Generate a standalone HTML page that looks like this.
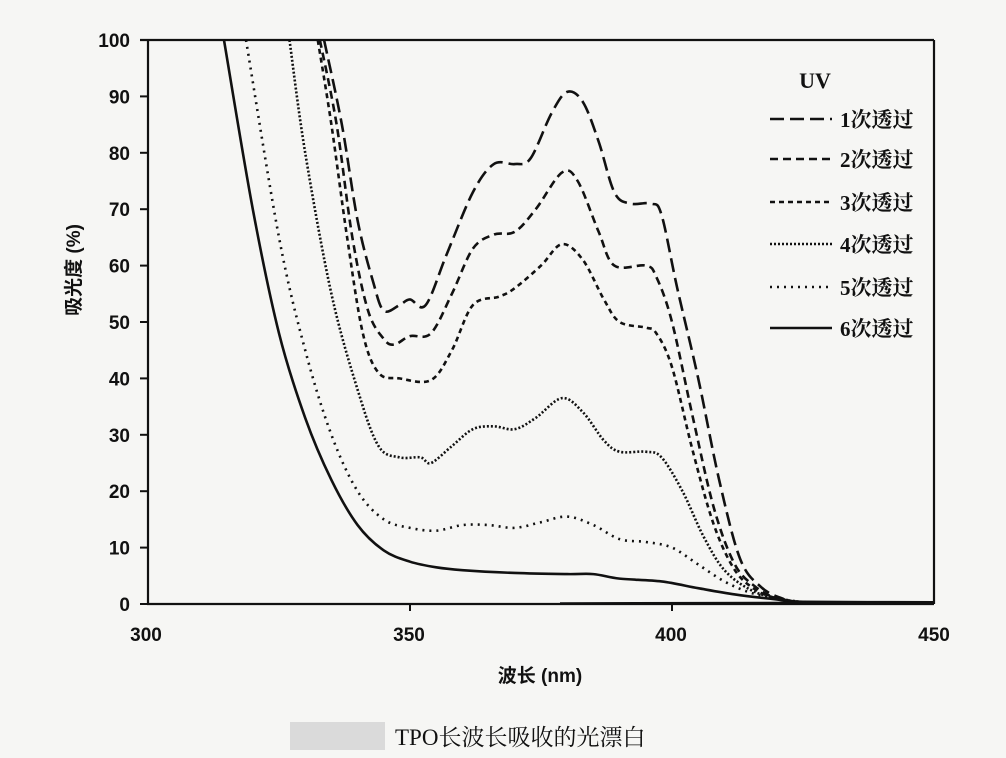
<!DOCTYPE html>
<html><head><meta charset="utf-8"><style>
html,body{margin:0;padding:0;background:#f6f6f4;}
svg{display:block;}
text{font-family:"Liberation Sans","Noto Sans CJK SC",sans-serif;fill:#111;}
.t{font-size:19px;font-weight:bold;}
.s{font-family:"Liberation Serif","Noto Serif CJK SC",serif;}
</style></head><body>
<svg id="c" width="1006" height="758" viewBox="0 0 1006 758" xmlns="http://www.w3.org/2000/svg">
<rect width="1006" height="758" fill="#f6f6f4"/>
<g stroke="#111" stroke-width="2.2" fill="none">
<line x1="148" y1="40" x2="148" y2="605"/>
<line x1="140" y1="40" x2="934" y2="40"/>
<line x1="147" y1="604" x2="934" y2="604"/>
<line x1="934" y1="40" x2="934" y2="604"/>
</g>
<g id="ticks" stroke="#111" stroke-width="2"></g>
<g id="ylab" class="t" text-anchor="end"></g>
<g class="t" text-anchor="middle">
<text x="146" y="641">300</text><text x="409" y="641">350</text><text x="671" y="641">400</text><text x="934" y="641">450</text>
</g>
<text x="540" y="682" text-anchor="middle" style="font-size:19px;font-weight:bold">波长 (nm)</text>
<text transform="translate(80,270) rotate(-90)" text-anchor="middle" style="font-size:19px;font-weight:bold">吸光度 (%)</text>
<g id="curves" fill="none" stroke="#111" stroke-width="2.6"></g>
<line x1="560" y1="603" x2="934" y2="602" stroke="#111" stroke-width="1.5"/>
<text x="815" y="88" class="s" style="font-size:22px;font-weight:bold" text-anchor="middle">UV</text>
<g id="leg"></g>
<rect x="290" y="722" width="95" height="28" fill="#cfcfcf" opacity="0.7"/>
<text x="395" y="745" class="s" style="font-size:23px">TPO长波长吸收的光漂白</text>
</svg>
<script>
const X=n=>148+(n-300)*5.24, Y=v=>604-v*5.64;
const NS="http://www.w3.org/2000/svg";
function el(t,a,p){const e=document.createElementNS(NS,t);for(const k in a)e.setAttribute(k,a[k]);p.appendChild(e);return e;}
const tk=document.getElementById('ticks'),yl=document.getElementById('ylab');
for(let v=0;v<=100;v+=10){const y=Y(v);el('line',{x1:140,y1:y,x2:148,y2:y},tk);const t=el('text',{x:130,y:y+7},yl);t.textContent=v;}
for(const n of [350,400]){el('line',{x1:X(n),y1:604,x2:X(n),y2:611},tk);}
function path(pts){const p=pts.map(([n,v])=>[X(n),Math.max(40,Y(v))]);let d="M"+p[0][0]+","+p[0][1];
for(let i=0;i<p.length-1;i++){const p0=p[i-1]||p[i],p1=p[i],p2=p[i+1],p3=p[i+2]||p2;
d+=`C${p1[0]+(p2[0]-p0[0])/6},${p1[1]+(p2[1]-p0[1])/6} ${p2[0]-(p3[0]-p1[0])/6},${p2[1]-(p3[1]-p1[1])/6} ${p2[0]},${p2[1]}`;}return d;}
const S=[
["14,6",[[333.6,100],[337,85],[340,68],[343,57],[345,52],[348,53],[350,54],[353,53],[357,62],[362,73],[366,78],[370,78],[373,79],[377,87],[380,90.8],[383,89],[386,82],[389,73],[392,71],[396,71],[398,69],[401,56],[405,40],[409,22],[413,8],[417,3],[421,1],[425,0.3],[450,0.3]]],
["8,5",[[332.8,100],[336,85],[339,65],[342,52],[345,47],[347,46],[350,47.5],[354,48],[358,55],[362,63],[366,65.5],[370,66],[374,70],[379,76.5],[382,75],[386,66],[389,60],[395,60],[397,58],[400,50],[404,33],[408,17],[412,7],[416,3],[420,1],[425,0.3]]],
["5,4",[[332.4,100],[335,85],[338,65],[341,48],[344,41],[348,40],[354,39.7],[358,45],[362,53],[367,54.5],[370,56],[375,60],[379,63.8],[383,61],[387,54],[390,50],[395,49],[397,48],[400,42],[404,27],[408,14],[412,6],[416,2.5],[420,1],[425,0.3]]],
["2,2",[[327,100],[330,80],[335,55],[340,38],[344,28],[348,26],[352,26],[354,25],[358,28],[362,31],[366,31.5],[370,31],[374,33],[379,36.5],[383,34],[387,29],[390,27],[395,27],[398,26],[402,20],[406,12],[410,6],[415,2.5],[420,1],[425,0.3]]],
["2,5",[[318.7,100],[325,65],[330,45],[335,30],[340,20],[345,15],[350,13.5],[355,13],[360,14],[365,14],[370,13.5],[375,14.5],[380,15.5],[385,14],[390,11.5],[395,11],[400,10],[405,7],[410,4],[415,2],[420,1],[425,0.3]]],
["",[[314.5,100],[320,70],[325,48],[330,33],[335,22],[340,14],[345,9.5],[350,7.5],[355,6.5],[360,6],[370,5.5],[380,5.3],[385,5.3],[390,4.5],[398,4],[405,2.8],[412,1.7],[420,0.8],[425,0.4],[450,0.3]]]];
const cg=document.getElementById('curves'),lg=document.getElementById('leg');
const rows=[125,165,208,250,293,334];
S.forEach((s,i)=>{const a={d:path(s[1])};if(s[0])a['stroke-dasharray']=s[0];el('path',a,cg);
const la={x1:770,y1:rows[i]-6,x2:832,y2:rows[i]-6,stroke:'#111','stroke-width':2.6};if(s[0])la['stroke-dasharray']=s[0];el('line',la,lg);
const t=el('text',{x:840,y:rows[i]+2,class:'s',style:'font-size:21px;font-weight:bold'},lg);t.textContent=(i+1)+"次透过";});
</script>
</body></html>
